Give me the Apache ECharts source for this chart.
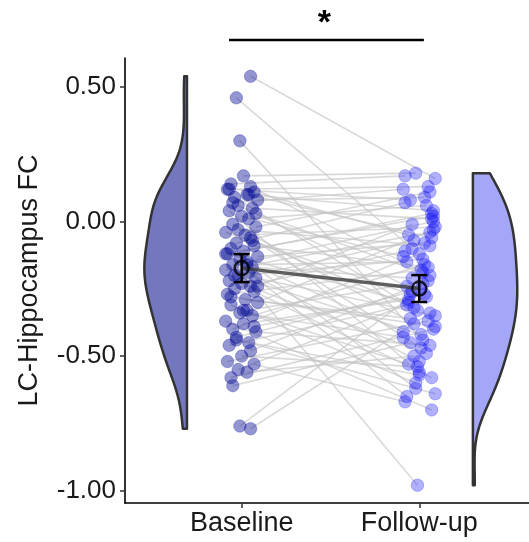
<!DOCTYPE html>
<html><head><meta charset="utf-8">
<script src="https://cdn.jsdelivr.net/npm/echarts@6/dist/echarts.min.js"></script>
<style>html,body{margin:0;padding:0;background:#fff}#c{width:529px;height:542px}</style>
</head><body><div id="c"></div>
<script>
const categories = ['Baseline', 'Follow-up'];
const yTicks = [-1, -0.5, 0, 0.5];
const baseline = [0.54, 0.46, 0.30, 0.17, 0.14, 0.13, 0.12, 0.11, 0.10, 0.09, 0.08, 0.06, 0.05, 0.04, 0.02, 0.01, -0.01, -0.02, -0.04, -0.05, -0.06, -0.08, -0.09, -0.10, -0.11, -0.12, -0.13, -0.14, -0.15, -0.16, -0.17, -0.18, -0.19, -0.20, -0.21, -0.22, -0.23, -0.24, -0.25, -0.26, -0.27, -0.29, -0.30, -0.31, -0.33, -0.34, -0.35, -0.37, -0.38, -0.40, -0.41, -0.43, -0.45, -0.46, -0.48, -0.50, -0.52, -0.53, -0.55, -0.56, -0.58, -0.61, -0.76, -0.77,
  0.12, 0.10, 0.07, 0.03, -0.03, -0.07, -0.12, -0.16, -0.20, -0.24, -0.28, -0.33, -0.39, -0.44];
const followup = [0.16, -0.10, -0.44, 0.18, 0.17, -0.20, 0.13, -0.05, 0.04, -0.33, 0.09, -0.24, 0.01, -0.56, -0.13, 0.06, -0.38, 0.11, -0.27, -0.02, -0.47, 0.07, -0.17, -0.62, 0.03, -0.30, -0.08, -0.41, 0.00, -0.52, -0.21, -0.04, -0.65, -0.14, -0.35, -0.07, -0.49, -0.98, -0.11, -0.58, -0.18, -0.36, -0.03, -0.60, -0.22, -0.43, -0.16, -0.70, -0.29, -0.12, -0.46, -0.26, -0.64, -0.31, -0.23, -0.54, -0.37, -0.67, -0.28, -0.50, -0.40, -0.45, -0.25, -0.34,
  0.08, -0.06, 0.12, -0.19, -0.09, -0.32, 0.02, -0.15, -0.42, -0.01, -0.39, -0.53, -0.27, -0.57];
const jitterBaseline = [0.05, -0.03, -0.01, 0.01, -0.06, 0.05, -0.08, 0.07, 0.03, -0.04, 0.09, -0.02, 0.06, -0.07, 0.00, 0.04, -0.05, 0.08, -0.09, 0.02, 0.05, -0.03, 0.07, -0.06, 0.01, -0.08, 0.09, -0.01, 0.03, -0.05, 0.06, -0.09, 0.04, -0.02, 0.08, -0.07, 0.00, 0.05, -0.04, 0.07, -0.08, 0.02, 0.09, -0.06, 0.03, -0.01, 0.06, -0.09, 0.01, -0.05, 0.08, -0.03, 0.04, -0.07, 0.05, 0.00, -0.08, 0.07, -0.02, 0.03, -0.06, -0.05, -0.01, 0.05,
  -0.07, 0.04, -0.05, 0.08, -0.02, 0.06, -0.09, 0.03, -0.04, 0.09, -0.06, 0.01, 0.07, -0.03];
const jitterFollowup = [0.09, -0.04, 0.02, -0.02, -0.08, 0.06, 0.05, -0.06, 0.08, -0.01, 0.03, -0.07, 0.07, 0.00, -0.09, 0.04, -0.03, 0.06, -0.05, 0.09, 0.01, -0.08, 0.05, -0.02, 0.07, -0.06, 0.03, -0.09, 0.08, 0.00, -0.04, 0.06, -0.07, 0.02, 0.09, -0.03, 0.04, -0.01, -0.08, 0.07, 0.01, -0.05, 0.08, -0.02, 0.05, -0.09, 0.03, 0.07, -0.06, 0.00, 0.06, -0.04, 0.09, -0.07, 0.02, -0.01, 0.05, -0.08, 0.04, -0.03, 0.08, -0.05, 0.01, 0.06,
  -0.05, 0.07, -0.09, 0.02, 0.06, -0.03, 0.08, -0.07, 0.01, -0.04, 0.09, -0.06, 0.03, 0.00];
const groupMeans = [-0.173, -0.249];
const groupErr = [0.052, 0.050];
const sigText = '*';

// geometry (not data)
const X_BASE = 1, X_FOLLOW = 2;
const VIOLIN_LEFT_EDGE = 0.692, VIOLIN_LEFT_W = 0.24;
const VIOLIN_RIGHT_EDGE = 2.302, VIOLIN_RIGHT_W = 0.25;
const SIG_Y = 0.675, SIG_X1 = 0.929, SIG_X2 = 2.026, STAR_Y = 0.735;

function bwNrd0(arr) {
  const n = arr.length;
  const m = arr.reduce((a, b) => a + b, 0) / n;
  const sd = Math.sqrt(arr.reduce((a, b) => a + (b - m) * (b - m), 0) / (n - 1));
  const s = arr.slice().sort((a, b) => a - b);
  const q = p => { const h = (n - 1) * p, lo = Math.floor(h); return s[lo] + (h - lo) * ((s[lo + 1] ?? s[lo]) - s[lo]); };
  const iqr = q(0.75) - q(0.25);
  return 0.9 * Math.min(sd, iqr / 1.34) * Math.pow(n, -0.2);
}
function kde(arr, steps) {
  const bw = bwNrd0(arr);
  const lo = Math.min(...arr), hi = Math.max(...arr);
  const out = [];
  for (let i = 0; i <= steps; i++) {
    const y = hi - (hi - lo) * i / steps;
    let d = 0;
    for (const v of arr) { const z = (y - v) / bw; d += Math.exp(-0.5 * z * z); }
    out.push([y, d]);
  }
  const mx = Math.max(...out.map(o => o[1]));
  return out.map(o => [o[0], o[1] / mx]);
}
function violinSeries(arr, edge, width, dir, fill) {
  const dens = kde(arr, 200);
  return {
    type: 'custom', silent: true, z: 1,
    data: [[edge, dens[0][0]]],
    renderItem: function (params, api) {
      const pts = [api.coord([edge, dens[0][0]])];
      dens.forEach(d => pts.push(api.coord([edge + dir * width * d[1], d[0]])));
      pts.push(api.coord([edge, dens[dens.length - 1][0]]));
      return { type: 'polygon', shape: { points: pts }, style: { fill: fill, stroke: '#333333', lineWidth: 2.5, lineJoin: 'round' } };
    }
  };
}

const chart = echarts.init(document.getElementById('c'), null, { renderer: 'canvas' });
const FONT = 'Liberation Sans, Arial, sans-serif';

const pairData = baseline.map((v, i) => [X_BASE + jitterBaseline[i], v, X_FOLLOW + jitterFollowup[i], followup[i]]);

chart.setOption({
  animation: false,
  backgroundColor: '#ffffff',
  grid: { left: 125, right: 0, top: 58, bottom: 39, containLabel: false },
  xAxis: {
    type: 'value', min: 0.343, max: 2.618,
    axisLine: { show: true, onZero: false, lineStyle: { color: '#000', width: 1.6 } },
    splitLine: { show: false },
    axisTick: { show: true, customValues: [X_BASE, X_FOLLOW], length: 5, lineStyle: { color: '#333', width: 1.5 } },
    axisLabel: { customValues: [X_BASE, X_FOLLOW], formatter: v => categories[Math.round(v) - 1], color: '#1a1a1a', fontSize: 27, fontFamily: FONT, margin: 7 }
  },
  yAxis: {
    type: 'value', min: -1.046, max: 0.608,
    name: 'LC-Hippocampus FC', nameLocation: 'middle', nameGap: 82, nameRotate: 90,
    nameTextStyle: { color: '#1a1a1a', fontSize: 27, fontFamily: FONT },
    axisLine: { show: true, onZero: false, lineStyle: { color: '#000', width: 1.6 } },
    splitLine: { show: false },
    axisTick: { show: true, customValues: yTicks, length: 5, lineStyle: { color: '#333', width: 1.5 } },
    axisLabel: { customValues: yTicks, formatter: v => v.toFixed(2), color: '#1a1a1a', fontSize: 26, fontFamily: FONT, margin: 9 }
  },
  series: [
    violinSeries(baseline, VIOLIN_LEFT_EDGE, VIOLIN_LEFT_W, -1, '#7377be'),
    violinSeries(followup, VIOLIN_RIGHT_EDGE, VIOLIN_RIGHT_W, 1, '#a4a7f7'),
    {
      type: 'custom', silent: true, z: 2,
      encode: { x: [0, 2], y: [1, 3] },
      data: pairData,
      renderItem: function (params, api) {
        const p1 = api.coord([api.value(0), api.value(1)]);
        const p2 = api.coord([api.value(2), api.value(3)]);
        return { type: 'line', shape: { x1: p1[0], y1: p1[1], x2: p2[0], y2: p2[1] }, style: { stroke: '#c4c4c4', lineWidth: 1.6, opacity: 0.65 } };
      }
    },
    {
      type: 'scatter', z: 3, symbolSize: 12.5,
      data: baseline.map((v, i) => [X_BASE + jitterBaseline[i], v]),
      itemStyle: { color: 'rgba(10,15,150,0.55)', borderColor: 'rgba(10,15,150,0.35)', borderWidth: 1 }
    },
    {
      type: 'scatter', z: 3, symbolSize: 12.5,
      data: followup.map((v, i) => [X_FOLLOW + jitterFollowup[i], v]),
      itemStyle: { color: 'rgba(20,20,245,0.42)', borderColor: 'rgba(20,20,245,0.3)', borderWidth: 1 }
    },
    {
      type: 'line', z: 4, symbol: 'none',
      data: [[X_BASE, groupMeans[0]], [X_FOLLOW, groupMeans[1]]],
      lineStyle: { color: '#3a3a3a', width: 3.5, opacity: 0.8 }
    },
    {
      type: 'custom', z: 5, silent: true,
      data: groupMeans.map((m, i) => [i + 1, m, m - groupErr[i], m + groupErr[i]]),
      encode: { x: 0, y: [1, 2, 3] },
      renderItem: function (params, api) {
        const x = api.value(0);
        const lo = api.coord([x, api.value(2)]);
        const hi = api.coord([x, api.value(3)]);
        const c = 8;
        const st = { stroke: '#000', lineWidth: 2.5 };
        return { type: 'group', children: [
          { type: 'line', shape: { x1: lo[0], y1: lo[1], x2: hi[0], y2: hi[1] }, style: st },
          { type: 'line', shape: { x1: lo[0] - c, y1: lo[1], x2: lo[0] + c, y2: lo[1] }, style: st },
          { type: 'line', shape: { x1: hi[0] - c, y1: hi[1], x2: hi[0] + c, y2: hi[1] }, style: st }
        ] };
      }
    },
    {
      type: 'scatter', z: 6, symbol: 'circle', symbolSize: 14,
      data: groupMeans.map((m, i) => [i + 1, m]),
      itemStyle: { color: 'rgba(255,255,255,0)', borderColor: '#000', borderWidth: 2.5 }
    },
    {
      type: 'custom', z: 6, silent: true, clip: false,
      data: [[SIG_X1, SIG_Y, SIG_X2, STAR_Y]],
      encode: { x: [0, 2], y: [1, 3] },
      renderItem: function (params, api) {
        const a = api.coord([api.value(0), api.value(1)]);
        const b = api.coord([api.value(2), api.value(1)]);
        const s = api.coord([(api.value(0) + api.value(2)) / 2, api.value(3)]);
        return { type: 'group', children: [
          { type: 'line', shape: { x1: a[0], y1: a[1], x2: b[0], y2: b[1] }, style: { stroke: '#000', lineWidth: 2.6 } },
          { type: 'text', x: s[0] - 2, y: s[1], style: { text: sigText, fill: '#000', font: 'bold 34px ' + FONT, align: 'center', verticalAlign: 'middle' } }
        ] };
      }
    }
  ]
});
</script>
</body></html>
